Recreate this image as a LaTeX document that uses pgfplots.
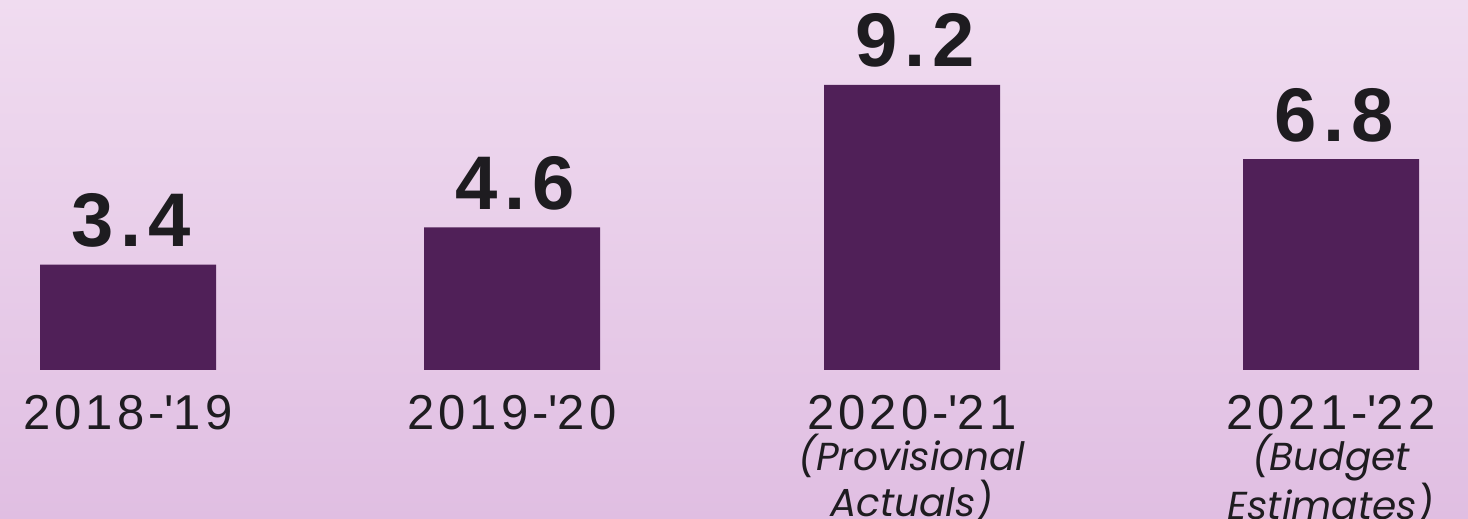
\documentclass[border=0pt]{standalone}
\usepackage{pgfplots}
\pgfplotsset{compat=1.18}
\usepackage{fontspec}
\setmainfont{Liberation Sans}
\newfontfamily\yearfamily[LetterSpace=8]{Liberation Sans}
\newfontfamily\valfamily[LetterSpace=9]{Liberation Sans}
\newfontfamily\subfamily{Poppins}
\definecolor{barcol}{RGB}{80,32,88}
\definecolor{bgtop}{RGB}{240,220,240}
\definecolor{bgbot}{RGB}{224,190,226}
\definecolor{txt}{RGB}{30,28,32}
\newcommand{\yr}[1]{{\yearfamily\upshape\fontsize{24.5}{26}\selectfont #1}}
\begin{document}
\begin{tikzpicture}
\shade[top color=bgtop, bottom color=bgbot] (0,-74.5pt) rectangle (734pt,185pt);
\useasboundingbox (0,-74.5pt) rectangle (734pt,185pt);
\begin{axis}[
  at={(0,0)}, anchor=south west,
  scale only axis, width=734pt, height=185pt,
  xmin=0, xmax=1468, ymin=0, ymax=11.935,
  axis line style={draw=none}, major tick length=0pt, ymajorticks=false,
  clip=false,
  xtick={128,512,912,1331},
  xticklabels={
    {\yr{2018-\textquotesingle19}},
    {\yr{2019-\textquotesingle20}},
    {\yr{2020-\textquotesingle21}\\[2pt](Provisional\\Actuals)},
    {\yr{2021-\textquotesingle22}\\[2pt](Budget\\Estimates)}},
  xticklabel style={anchor=north, inner sep=0pt, yshift=-12.5pt, align=center, text=txt,
    font=\subfamily\itshape\fontsize{19.5}{18.5}\selectfont},
]
\addplot[ybar, bar width=88pt, fill=barcol, draw=none,
  point meta=explicit symbolic,
  nodes near coords={\pgfplotspointmeta},
  nodes near coords style={anchor=south, inner sep=0pt, yshift=8.5pt, xshift=1.5pt,
    font=\valfamily\bfseries\fontsize{38}{40}\selectfont, text=txt}]
  coordinates {(128,3.4)[3.4] (512,4.6)[4.6] (912,9.2)[9.2] (1331,6.8)[6.8]};
\end{axis}
\end{tikzpicture}
\end{document}
